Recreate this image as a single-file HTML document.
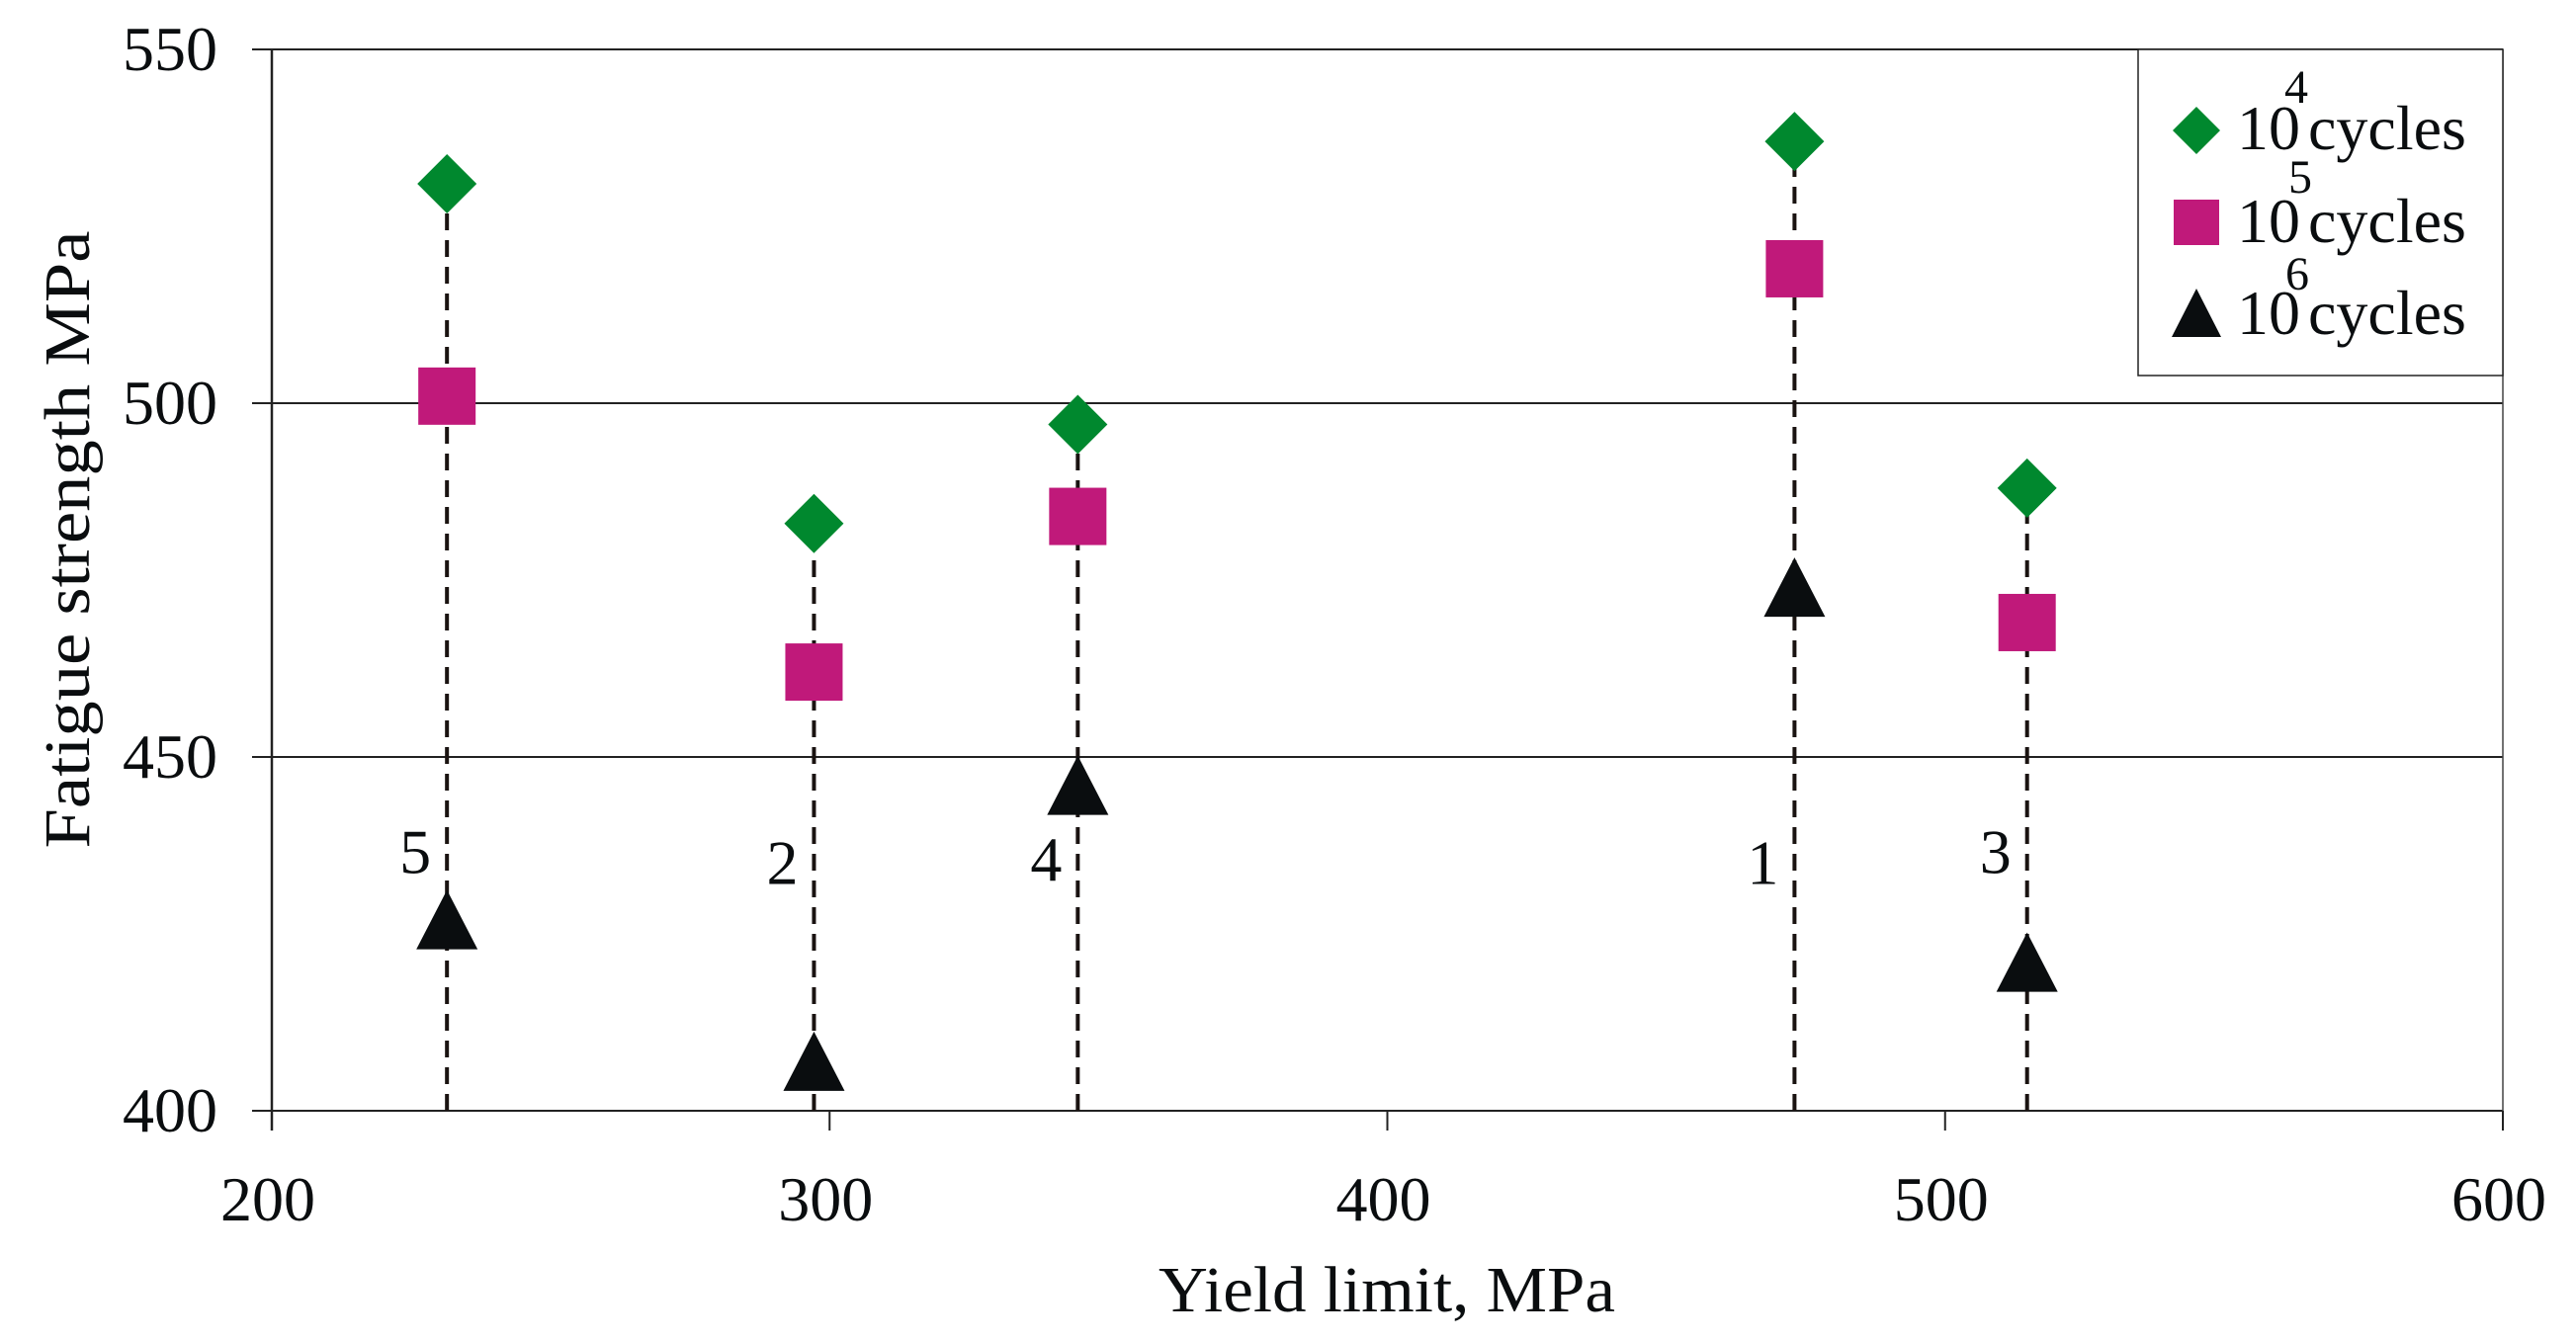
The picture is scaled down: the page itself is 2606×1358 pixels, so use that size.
<!DOCTYPE html>
<html><head><meta charset="utf-8"><style>
html,body{margin:0;padding:0;background:#fff;}
svg{display:block;font-family:"Liberation Serif",serif;}
</style></head><body>
<svg id="chart" width="2606" height="1358" viewBox="0 0 2606 1358" xmlns="http://www.w3.org/2000/svg">
<g id="grid"></g>
<g id="axes"></g>
<g id="marks"></g>
<text transform="translate(90,546) rotate(-90)" text-anchor="middle" font-size="66" textLength="625" lengthAdjust="spacingAndGlyphs" fill="#0a0d0f">Fatigue strength MPa</text>
<text x="1403" y="1327" text-anchor="middle" font-size="66" textLength="462" lengthAdjust="spacingAndGlyphs" fill="#0a0d0f">Yield limit, MPa</text>
<g>
  <rect x="2163" y="50" width="369" height="330" fill="#fff" stroke="#222" stroke-width="1.5"/>
  <g>
    <polygon points="2222,108 2246,132 2222,156 2198,132" fill="#00882e"/>
    <text x="2263" y="151" font-size="64" fill="#0a0d0f">10</text>
    <text x="2311" y="104" font-size="48" fill="#0a0d0f">4</text>
    <text x="2335" y="151" font-size="64" fill="#0a0d0f">cycles</text>
  </g>
  <g>
    <rect x="2199" y="202" width="46" height="46" fill="#c0197a"/>
    <text x="2263" y="245" font-size="64" fill="#0a0d0f">10</text>
    <text x="2315" y="195" font-size="48" fill="#0a0d0f">5</text>
    <text x="2335" y="245" font-size="64" fill="#0a0d0f">cycles</text>
  </g>
  <g>
    <polygon points="2222,292 2247,341 2197,341" fill="#0a0d0f"/>
    <text x="2263" y="338" font-size="64" fill="#0a0d0f">10</text>
    <text x="2312" y="293" font-size="48" fill="#0a0d0f">6</text>
    <text x="2335" y="338" font-size="64" fill="#0a0d0f">cycles</text>
  </g>
</g>
</svg>
<script>
const yieldLimit = [231.4, 297.2, 344.5, 473, 514.7];
const cycles1e4 = [531, 483, 497, 537, 488];
const cycles1e5 = [501, 462, 484, 519, 469];
const cycles1e6 = [427, 407, 446, 474, 421];
const pointLabels = ["5", "2", "4", "1", "3"];
const labelLevel = [436.5, 435, 435.5, 435, 436.5];
const xTicks = [200, 300, 400, 500, 600];
const yTicks = [400, 450, 500, 550];

const NS = "http://www.w3.org/2000/svg";
const L = 275, R = 2532, T = 50, B = 1124;
const X0 = 200, X1 = 600, Y0 = 400, Y1 = 550;
const sx = v => L + (v - X0) / (X1 - X0) * (R - L);
const sy = v => B - (v - Y0) / (Y1 - Y0) * (B - T);
function mk(tag, attrs, parent) {
  const e = document.createElementNS(NS, tag);
  for (const k in attrs) e.setAttribute(k, attrs[k]);
  parent.appendChild(e);
  return e;
}
const grid = document.getElementById('grid');
const axes = document.getElementById('axes');
const marks = document.getElementById('marks');

yTicks.forEach(t => {
  const y = sy(t);
  const g = mk('line', {x1: L - 20, x2: R, y1: y, y2: y, stroke: '#222', 'stroke-width': 2}, grid);
  
  
  const tx = mk('text', {x: 220, y: y + 21, 'text-anchor': 'end', 'font-size': 64, fill: '#0a0d0f'}, axes);
  tx.textContent = t;
  
  
});
xTicks.forEach(t => {
  const x = sx(t);
  const tk = mk('line', {x1: x, x2: x, y1: B, y2: B + 20, stroke: '#222', 'stroke-width': 2}, axes);
  
  
  const tx = mk('text', {x: x - 4, y: 1235, 'text-anchor': 'middle', 'font-size': 64, fill: '#0a0d0f'}, axes);
  tx.textContent = t;
  
  
});
const yAxis = mk('line', {x1: L, x2: L, y1: T, y2: B + 20, stroke: '#222', 'stroke-width': 2.5}, axes);


const rAxis = mk('line', {x1: R, x2: R, y1: T, y2: B, stroke: '#444', 'stroke-width': 1.5}, axes);



yieldLimit.forEach((xv, i) => {
  const x = sx(xv);
  const top = Math.max(cycles1e4[i], cycles1e5[i], cycles1e6[i]);
  const dl = mk('line', {x1: x, x2: x, y1: B, y2: sy(top), stroke: '#1a1311', 'stroke-width': 4, 'stroke-dasharray': '17 10'}, marks);
  
  

  const lb = mk('text', {x: x - 32, y: sy(labelLevel[i]) + 21, 'text-anchor': 'middle', 'font-size': 64, fill: '#0a0d0f'}, marks);
  lb.textContent = pointLabels[i];
  
  

  const y4 = sy(cycles1e4[i]);
  const d = mk('polygon', {points: `${x},${y4 - 30} ${x + 30},${y4} ${x},${y4 + 30} ${x - 30},${y4}`, fill: '#00882e'}, marks);
  
  

  const y5 = sy(cycles1e5[i]);
  const s = mk('rect', {x: x - 29, y: y5 - 29, width: 58, height: 58, fill: '#c0197a'}, marks);
  
  

  const y6 = sy(cycles1e6[i]);
  const tr = mk('polygon', {points: `${x},${y6 - 30} ${x + 31},${y6 + 30} ${x - 31},${y6 + 30}`, fill: '#0a0d0f'}, marks);
  
  
});
</script>
</body></html>
